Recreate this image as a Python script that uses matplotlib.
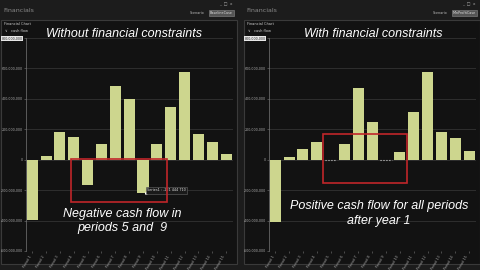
import numpy as np
import matplotlib
matplotlib.use('Agg')
from matplotlib import pyplot as plt
from matplotlib.patches import Rectangle
from matplotlib.ticker import FuncFormatter

# cash flow per period
periods = ['Period %d' % n for n in range(1, 16)]
cash_without = [-395e6, 27e6, 182e6, 151e6, -165e6, 100e6, 485e6, 400e6,
                -222e6, 100e6, 349e6, 578e6, 167e6, 118e6, 40e6]
cash_with = [-410e6, 18e6, 73e6, 115e6, 0, 105e6, 473e6, 249e6,
             0, 49e6, 311e6, 578e6, 182e6, 144e6, 55e6]
y_ticks = [-600e6, -400e6, -200e6, 0, 200e6, 400e6, 600e6, 800e6]

titles = ['Without financial constraints', 'With financial constraints']
notes = ['Negative cash flow in\nperiods 5 and  9',
         'Positive cash flow for all periods\nafter year 1']
scenarios = ['BaselineCase', 'MinProfitCase']

W, H = 480, 270
BAR = '#cdd68e'
BG = '#121212'
FONT = ['Liberation Sans', 'DejaVu Sans']


def fx(x):
    return x / W


def fy(y):
    return 1 - y / H


def add_panel(fig, x0, values, title, title_x, note, note_xy, box, scen):
    # window frame, kept behind the axes
    fig.patches.append(Rectangle((fx(x0 + 1), fy(264)), 236 / W, 244 / H,
                                 transform=fig.transFigure, facecolor=BG,
                                 edgecolor='#3a3a3a', lw=0.8, zorder=-5))
    fig.text(fx(x0 + 3), fy(10), 'Financials', color='#8a8a8a', fontsize=4.5,
             va='center')
    fig.text(fx(x0 + 190), fy(13), 'Scenario', color='#bbbbbb', fontsize=2.4,
             va='center')
    fig.text(fx(x0 + 210), fy(13), scen, color='#dddddd', fontsize=2.4,
             va='center', bbox=dict(facecolor='#555555', edgecolor='#888888',
                                    pad=0.6, lw=0.4))
    fig.text(fx(x0 + 219), fy(4), '_  \u25a1  x', color='#aaaaaa', fontsize=3,
             va='center')
    fig.text(fx(x0 + 4), fy(24), 'Financial Chart', color='#cccccc',
             fontsize=2.6, va='center')
    fig.text(fx(x0 + 5), fy(30.5), '\u2228   cash flow', color='#cccccc',
             fontsize=2.6, va='center')

    ax = fig.add_axes([fx(x0 + 26), fy(251), 207 / W, 213 / H])
    ax.set_facecolor(BG)
    x = np.arange(len(values))
    ax.bar(x, values, width=0.8, color=BAR, zorder=3)
    zeros = [i for i, v in enumerate(values) if v == 0]
    if zeros:
        ax.hlines([0] * len(zeros), np.array(zeros) - 0.4,
                  np.array(zeros) + 0.4, colors='#cccccc', linestyles=':',
                  lw=0.8, zorder=4)
    ax.set_xlim(-0.45, 14.5)
    ax.set_ylim(-600e6, 800e6)
    ax.set_yticks(y_ticks)
    ax.yaxis.set_major_formatter(FuncFormatter(lambda v, p: '{:,.0f}'.format(v)))
    ax.set_xticks(x)
    ax.set_xticklabels(periods, rotation=60, ha='right', fontsize=2.4,
                       color='#aaaaaa')
    ax.tick_params(axis='y', labelsize=2.3, labelcolor='#aaaaaa', length=1.5,
                   width=0.4, color='#777777', pad=0.8)
    ax.tick_params(axis='x', length=1.5, width=0.4, color='#777777', pad=1)
    ax.grid(axis='y', color='#3a3a3a', lw=0.5, zorder=0)
    for s in ['top', 'right', 'bottom']:
        ax.spines[s].set_visible(False)
    ax.spines['left'].set_color('#777777')
    ax.spines['left'].set_linewidth(0.5)
    top = ax.get_yticklabels()[-1]
    top.set_color('#222222')
    top.set_bbox(dict(facecolor='#e6e6e6', edgecolor='none', pad=0.4))

    fig.text(fx(title_x), fy(34), title, color='white', fontsize=9,
             style='italic', ha='center', va='center', family=FONT)
    fig.text(fx(note_xy[0]), fy(note_xy[1]), note, color='white',
             fontsize=9, style='italic', ha='center', va='center',
             linespacing=1.3, family=FONT)
    fig.patches.append(Rectangle((fx(box[0]), fy(box[3])),
                                 (box[2] - box[0]) / W, (box[3] - box[1]) / H,
                                 transform=fig.transFigure, fill=False,
                                 edgecolor='#c0262a', lw=1.2, zorder=5))
    return ax


fig = plt.figure(figsize=(4.8, 2.7), dpi=100, facecolor='#1c1c1c')

ax1 = add_panel(fig, 0, cash_without, titles[0], 124, notes[0], (122, 221),
                (71, 159, 167, 202), scenarios[0])
ax2 = add_panel(fig, 243, cash_with, titles[1], 373, notes[1], (379, 213.5),
                (323, 134, 407, 183), scenarios[1])

# hover tooltip on period 9
ax1.plot(8.2, cash_without[8], 'o', color='white', ms=1.2, zorder=6)
ax1.text(8.3, cash_without[8] + 20e6, 'Series1 : -221 444 710', fontsize=2.4,
         color='#dddddd', va='center', zorder=7,
         bbox=dict(facecolor='#1a1a1a', edgecolor='#666666', pad=0.8, lw=0.4))

fig.savefig('out.png', dpi=100, facecolor=fig.get_facecolor())
